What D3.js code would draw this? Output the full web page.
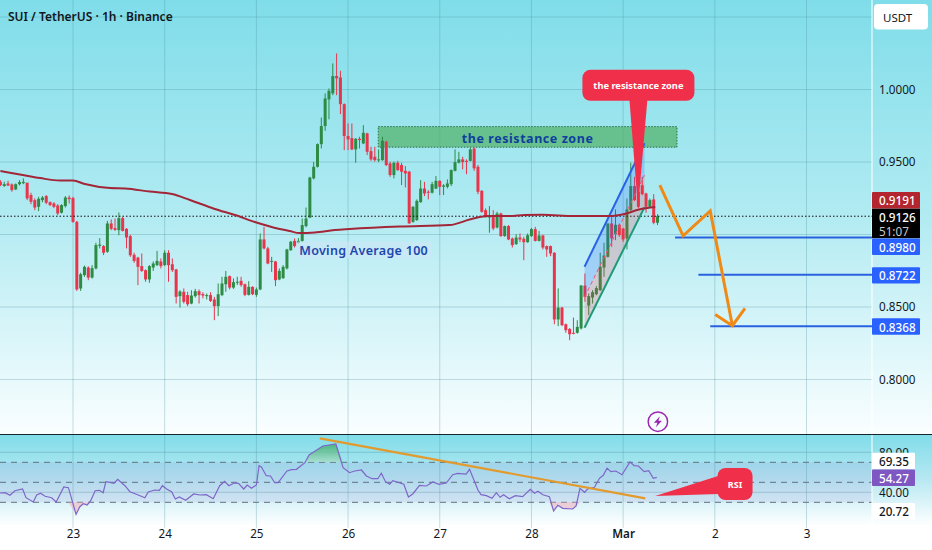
<!DOCTYPE html>
<html>
<head>
<meta charset="utf-8">
<style>
  html, body { margin: 0; padding: 0; background: #fff; overflow: hidden; }
  svg { display: block; }
  text { font-family: "Noto Sans", sans-serif; }
</style>
<script src="https://cdnjs.cloudflare.com/ajax/libs/d3/7.8.5/d3.min.js"></script>
</head>
<body>
<script>
// hours are counted from 23 Feb 00:00, first candle sits 19 hours earlier
const firstHour = -19;

const opens = [.9364,.9334,.9352,.9345,.9311,.9347,.9354,.9357,.9272,.9237,.9191,.9237,.9265,.9223,.9214,.9200,.9150,.9196,.9255,
  .9251,.9087,.8628,.8720,.8772,.8703,.8766,.8922,.8920,.8881,.9076,.9044,.9030,.9113,.9039,.8989,.8860,.8841,.8782,.8754,.8690,.8772,.8789,.8814,.8789,.8874,.8795,.8759,.8575,.8605,.8582,.8524,.8575,.8609,.8589,.8575,.8582,.8552,.8506,.8582,.8657,.8713,.8634,.8667,.8680,.8657,.8584,.8639,.8584,.8621,.8966,.8904,.8812,.8814,.8690,.8699,.8766,.8892,.8956,.8943,.8956,.9058,
  .9117,.9387,.9467,.9623,.9748,.9932,.9973,1.0093,1.0083,.9899,.9679,.9665,.9587,.9660,.9628,.9697,.9575,.9536,.9513,.9513,.9640,.9490,.9410,.9495,.9479,.9439,.9433,.9087,.9099,.9223,.9317,.9295,.9288,.9317,.9370,.9329,.9329,.9347,.9439,.9495,.9518,.9508,.9508,.9593,.9467,.9301,.9168,.9117,.9122,.9048,.9145,.8989,.9058,.8972,.8933,.8979,.8970,.8947,.8989,.9037,.8956,.8993,.8920,.8920,.8874,.8414,.8496,.8381,.8349,.8322,.8322,
  .8352,.8648,.8510,.8565,.8588,.8616,.8772,.8846,.9076,.9002,.9067,.9041,.8973,.9168,.9334,.9295,.9340,.9283,.9191,.9242,.9081];
const highs = [.9375,.9364,.9370,.9352,.9352,.9375,.9387,.9357,.9288,.9249,.9260,.9265,.9272,.9228,.9223,.9209,.9209,.9265,.9269,
  .9260,.9094,.8736,.8786,.8781,.8789,.8943,.8975,.8927,.9094,.9104,.9110,.9152,.9122,.9044,.8998,.8874,.8846,.8869,.8759,.8789,.8814,.8887,.8835,.8892,.8892,.8835,.8763,.8616,.8628,.8605,.8616,.8625,.8621,.8602,.8593,.8602,.8570,.8662,.8708,.8749,.8717,.8697,.8708,.8708,.8662,.8678,.8643,.8634,.9007,.9053,.8915,.8846,.8818,.8766,.8789,.8901,.8956,.8973,.8975,.9110,.9186,
  .9398,.9501,.9628,.9807,.9973,1.0007,1.0180,1.0249,1.0129,.9904,.9766,.9766,.9665,.9674,.9754,.9702,.9605,.9605,.9587,.9674,.9646,.9502,.9502,.9508,.9495,.9472,.9439,.9196,.9242,.9375,.9363,.9306,.9363,.9403,.9375,.9347,.9380,.9449,.9587,.9570,.9536,.9518,.9600,.9600,.9479,.9306,.9180,.9196,.9168,.9157,.9150,.9062,.9065,.8979,.9002,.9007,.8984,.9007,.9046,.9053,.9025,.8998,.8924,.8924,.8878,.8628,.8501,.8386,.8354,.8427,.8409,
  .8651,.8731,.8593,.8616,.8644,.8874,.8943,.9076,.9122,.9173,.9076,.9046,.9248,.9495,.9398,.9334,.9398,.9288,.9248,.9278,.9140];
const lows = [.9334,.9329,.9334,.9295,.9306,.9338,.9347,.9237,.9209,.9168,.9161,.9223,.9209,.9196,.9182,.9134,.9145,.9186,.9214,
  .9081,.8611,.8611,.8708,.8685,.8696,.8759,.8904,.8858,.8874,.9030,.9025,.8995,.9021,.8904,.8846,.8805,.8651,.8742,.8674,.8667,.8749,.8782,.8766,.8782,.8674,.8742,.8524,.8496,.8524,.8506,.8519,.8565,.8524,.8559,.8552,.8535,.8409,.8437,.8575,.8605,.8621,.8625,.8651,.8639,.8575,.8579,.8582,.8570,.8616,.8897,.8795,.8742,.8644,.8685,.8694,.8759,.8887,.8910,.8938,.8949,.9049,
  .9113,.9380,.9462,.9593,.9715,.9794,.9961,.9961,.9830,.9582,.9582,.9582,.9495,.9593,.9623,.9548,.9508,.9502,.9499,.9508,.9472,.9398,.9387,.9439,.9341,.9324,.9076,.9081,.9094,.9219,.9265,.9242,.9283,.9313,.9272,.9272,.9318,.9334,.9435,.9490,.9449,.9416,.9504,.9439,.9278,.9150,.9117,.9012,.9030,.9042,.8984,.8984,.8961,.8910,.8929,.8947,.8823,.8943,.8984,.8952,.8952,.8897,.8846,.8851,.8381,.8368,.8368,.8322,.8271,.8312,.8317,
  .8345,.8536,.8444,.8524,.8581,.8611,.8708,.8841,.8915,.8961,.8984,.8950,.8897,.9163,.9230,.9180,.9271,.9150,.9186,.9071,.9065];
const closes = [.9341,.9347,.9338,.9306,.9347,.9361,.9363,.9249,.9226,.9186,.9246,.9255,.9219,.9203,.9191,.9145,.9203,.9255,.9244,
  .9087,.8621,.8726,.8777,.8703,.8768,.8927,.8931,.8874,.9076,.9039,.9032,.9113,.9025,.8979,.8857,.8818,.8777,.8749,.8690,.8782,.8800,.8818,.8782,.8874,.8789,.8754,.8570,.8607,.8536,.8519,.8579,.8609,.8582,.8579,.8582,.8542,.8506,.8588,.8662,.8708,.8634,.8671,.8674,.8651,.8584,.8639,.8588,.8621,.8966,.8904,.8800,.8818,.8685,.8749,.8777,.8897,.8950,.8920,.8956,.9065,.9110,
  .9393,.9467,.9623,.9748,.9938,.9991,1.0093,1.0077,.9899,.9679,.9656,.9587,.9660,.9651,.9702,.9571,.9518,.9513,.9518,.9646,.9479,.9410,.9495,.9444,.9433,.9421,.9076,.9191,.9232,.9317,.9283,.9288,.9347,.9370,.9329,.9338,.9352,.9444,.9499,.9518,.9499,.9504,.9587,.9456,.9295,.9157,.9122,.9127,.9042,.9145,.8989,.9058,.8966,.8927,.8979,.8966,.8947,.8995,.9037,.8956,.8993,.8910,.8897,.8869,.8414,.8496,.8375,.8340,.8312,.8317,.8363,
  .8648,.8570,.8575,.8602,.8630,.8777,.8855,.9076,.8973,.9067,.8996,.8966,.9173,.9334,.9237,.9191,.9278,.9191,.9237,.9081,.9126];

const maHours = [-19,-13.9,-8.6,-3.4,0,3.1,9.7,13.6,20.1,25.9,30.6,37.1,42.4,47.6,54.1,56.7,59.3,63.3,68.5,72.4,85.5,98.6,103.8,106.4,109,114.2,118.2,122.9,131.2,140.4,144.3,148.2,152.4];
const maValues = [.9438,.9414,.9389,.9372,.9372,.9348,.9320,.9317,.9296,.9279,.9238,.9176,.9134,.9086,.9038,.9024,.9010,.9014,.9031,.9038,.9055,.9065,.9103,.9120,.9127,.9127,.9134,.9136,.9127,.9127,.9141,.9172,.9189];

const rsiHours = [-19.1,-17.8,-16.5,-15.2,-13.2,-12.3,-10.4,-9.5,-8.5,-7.3,-5.6,-4.4,-2.4,-1.2,.8,1.8,2.7,3.7,4.6,5.8,6.9,7.9,8.6,9.7,10.7,11.7,13.6,14.9,16.6,18.8,19.7,21.4,22.6,23.4,24.5,25.8,26.8,27.8,29.5,31.6,33.2,34.9,36.7,38.4,39.7,40.8,42.2,43.3,44.7,45.6,46.7,48,48.7,49.3,50.6,51.7,52.8,53.7,56,57.2,58.5,60.7,61.8,65.4,68.8,70.7,72.4,73.7,75.5,76.8,78.3,79.8,80.7,81.8,82.9,83.7,86.6,87.8,89,90.7,92.5,94.2,95.8,97.7,99.4,100.7,102.9,103.8,106,106.8,108.2,109.7,110.8,111.8,112.7,114.2,115.8,117.7,119.7,120.8,121.7,123,124.7,125.8,126.9,128.2,130.8,131.7,132.7,133.9,134.7,136.5,137.8,138.8,139.8,140.8,142.1,143.7,145.8,146.9,148,149.5,150.7,151.9,152.8];
const rsiValues = [39.3,39.6,37,41.6,43.3,34.6,30.3,37.3,39,36,34.6,30.3,45.3,44.6,18,25.6,28.6,27.3,31.3,41.6,42,39.6,50.6,50,49,53,46.6,40.6,38,34.6,40.3,42.3,42,46.6,43.3,40.6,33.3,35.3,32,38.3,37.3,37.6,33.6,46.6,51,46.6,49.3,49,43.3,47.3,44,47.3,66.6,65.3,56.6,56.3,49.6,49.6,61.3,62.6,63,69.6,77.3,86.3,88.3,64.6,59.6,61.3,62.3,56.3,53.6,53.6,59,50.6,48,51.6,48,35.3,38.6,47,46.3,50.3,48,49.3,57.6,59,58.3,63,42.3,37.6,36.6,34,39.6,35,37.6,33.6,36.6,35.6,43,39,41,37.6,35.6,21.3,27,24,23.3,26.3,44,40,43.3,45,54,57,64,60.6,61.3,57.6,70.3,66.6,66.3,60.6,61.6,54,55];

const dayHours = [0,24,48,72,96,120,144,168,192];
const dayLabels = ["23","24","25","26","27","28","Mar","2","3"];
const priceGrid = [1.05,1,0.95,0.9,0.85,0.8];
const priceTicks = [1,0.95,0.85,0.8];
const rsiGrid = [80,40];
const rsiBands = [70,50,30];
const rsiTicks = [80,40];

const lastPrice = 0.9126;
const maLast = 0.9191;
const targets = [0.898,0.8722,0.8368];
const targetStartHours = [157.6,163.7,166.8];

// drawings on the chart, all in hours and price / rsi units
const zoneHours = [79.9,158.1];
const zonePrices = [0.9744,0.9602];
const channelHours = [133.9,149.6];
const channelUpper = [0.8778,0.9629];
const channelLower = [0.8357,0.9189];
const zigzagHours = [153.6,159.7,166.8,172.6];
const zigzagPrices = [0.9341,0.8991,0.9162,0.8371];
const arrowHours = [168.1,172.6,175.9];
const arrowPrices = [0.8449,0.8371,0.8491];
const trendHours = [64.6,149.8];
const trendRsi = [94,34];

const width = 932, height = 550;
const axisX = 872, panelTop = 434.5, panelBottom = 528;

const x = d3.scaleLinear().domain([0,192]).range([73,806.5]);
const y = d3.scaleLinear().domain([0.8,1]).range([379.5,89.5]);
const r = d3.scaleLinear().domain([0,100]).range([532.3,432.3]);

const svg = d3.select("body").append("svg").attr("width",width).attr("height",height);
const defs = svg.append("defs");

function addGradient(id, y1, y2, stops) {
  const g = defs.append("linearGradient").attr("id",id).attr("gradientUnits","userSpaceOnUse")
    .attr("x1",0).attr("x2",0).attr("y1",y1).attr("y2",y2);
  stops.forEach(s => g.append("stop").attr("offset",s[0]).attr("stop-color",s[1]));
}
addGradient("bgMain",0,434,[[0,"#7fdde9"],[0.5,"#b2ebf2"],[1,"#fafeff"]]);
addGradient("bgRsi",434,526,[[0,"#7fdde9"],[0.5,"#b8e8f2"],[1,"#ffffff"]]);
addGradient("overFill",445,462,[[0,"#3fae6c"],[1,"#a6dcc8"]]);
defs.append("clipPath").attr("id","clipOver").append("rect").attr("x",0).attr("y",0).attr("width",width).attr("height",r(70));

svg.append("rect").attr("width",width).attr("height",434).attr("fill","url(#bgMain)");
svg.append("rect").attr("y",434).attr("width",width).attr("height",94).attr("fill","url(#bgRsi)");

// rsi band
svg.append("rect").attr("x",0).attr("width",axisX).attr("y",r(70)).attr("height",r(30)-r(70))
  .attr("fill","#7e57c2").attr("fill-opacity",0.1);

// grid
svg.append("g").selectAll("line").data(priceGrid).join("line")
  .attr("x1",0).attr("x2",axisX).attr("y1",d => y(d)).attr("y2",d => y(d))
  .attr("stroke","#4a8f9c").attr("stroke-opacity",0.3);
svg.append("g").selectAll("line").data(dayHours).join("line")
  .attr("x1",d => x(d)).attr("x2",d => x(d)).attr("y1",0).attr("y2",panelBottom)
  .attr("stroke","#4a8f9c").attr("stroke-opacity",0.3);
svg.append("g").selectAll("line").data(rsiGrid).join("line")
  .attr("x1",0).attr("x2",axisX).attr("y1",d => r(d)).attr("y2",d => r(d))
  .attr("stroke","#4a7f8c").attr("stroke-opacity",0.3);
svg.append("g").selectAll("line").data(rsiBands).join("line")
  .attr("x1",0).attr("x2",axisX).attr("y1",d => r(d)).attr("y2",d => r(d))
  .attr("stroke","#5f7480").attr("stroke-dasharray","6,5");

// axis column edge
svg.append("line").attr("x1",axisX).attr("x2",axisX).attr("y1",0).attr("y2",panelBottom)
  .attr("stroke","#fff").attr("stroke-opacity",0.7).attr("stroke-width",1.5);

// resistance zone
svg.append("rect").attr("x",x(zoneHours[0])).attr("width",x(zoneHours[1])-x(zoneHours[0]))
  .attr("y",y(zonePrices[0])).attr("height",y(zonePrices[1])-y(zonePrices[0]))
  .attr("fill","#4caf62").attr("fill-opacity",0.68)
  .attr("stroke","#2c6e49").attr("stroke-dasharray","1.5,1.5");

// candles
const candles = opens.map((o,i) => ({hour:firstHour+i, o, h:highs[i], l:lows[i], c:closes[i]}));
const candleColor = d => d.c >= d.o ? "#2e8b45" : "#e8354c";
const gc = svg.append("g");
gc.selectAll("line").data(candles).join("line")
  .attr("x1",d => x(d.hour)).attr("x2",d => x(d.hour))
  .attr("y1",d => y(d.h)).attr("y2",d => y(d.l))
  .attr("stroke",candleColor);
gc.selectAll("rect").data(candles).join("rect")
  .attr("x",d => x(d.hour)-1.5).attr("width",3)
  .attr("y",d => y(Math.max(d.o,d.c)))
  .attr("height",d => Math.max(1,Math.abs(y(d.o)-y(d.c))))
  .attr("fill",candleColor);

// last price line
svg.append("line").attr("x1",0).attr("x2",axisX).attr("y1",y(lastPrice)).attr("y2",y(lastPrice))
  .attr("stroke","#111").attr("stroke-dasharray","1.5,2");

// rising channel
const channel = channelHours.map((h,i) => ({h, up:channelUpper[i], lo:channelLower[i], mid:(channelUpper[i]+channelLower[i])/2}));
const bandArea = (a,b) => d3.area().x(d => x(d.h)).y0(d => y(d[a])).y1(d => y(d[b]));
svg.append("path").datum(channel).attr("d",bandArea("mid","up")).attr("fill","#2962ff").attr("fill-opacity",0.22);
svg.append("path").datum(channel).attr("d",bandArea("lo","mid")).attr("fill","#f23645").attr("fill-opacity",0.2);
const chanLine = k => d3.line().x(d => x(d.h)).y(d => y(d[k]));
svg.append("path").datum(channel).attr("d",chanLine("up")).attr("fill","none").attr("stroke","#2962e8").attr("stroke-width",2);
svg.append("path").datum(channel).attr("d",chanLine("lo")).attr("fill","none").attr("stroke","#1f9a78").attr("stroke-width",2);
svg.append("path").datum(channel).attr("d",chanLine("mid")).attr("fill","none").attr("stroke","#f2547a").attr("stroke-dasharray","4,3").attr("stroke-width",1);

// target lines
svg.append("g").selectAll("line").data(targets).join("line")
  .attr("x1",(d,i) => x(targetStartHours[i])).attr("x2",axisX)
  .attr("y1",d => y(d)).attr("y2",d => y(d))
  .attr("stroke","#2962e0").attr("stroke-width",2);

// orange path
const orange = d3.line().x(d => x(d[0])).y(d => y(d[1]));
svg.append("path").datum(zigzagHours.map((h,i) => [h,zigzagPrices[i]])).attr("d",orange)
  .attr("fill","none").attr("stroke","#ef8a17").attr("stroke-width",3);
svg.append("path").datum(arrowHours.map((h,i) => [h,arrowPrices[i]])).attr("d",orange)
  .attr("fill","none").attr("stroke","#ef8a17").attr("stroke-width",3);

// annotations text
svg.append("text").attr("x",x(119)).attr("y",y(0.9659)).attr("text-anchor","middle").attr("dominant-baseline","central")
  .attr("font-weight",700).attr("font-size",12.5).attr("letter-spacing",0.55).attr("fill","#0f3f9c").text("the resistance zone");

const maLabel = svg.append("g").attr("transform",`translate(${x(58.7)},${y(0.8893)})`);
maLabel.append("rect").attr("x",0).attr("y",-8.5).attr("width",135).attr("height",17).attr("fill","#cfe6f6").attr("fill-opacity",0.6);
maLabel.append("text").attr("x",2).attr("y",0).attr("dominant-baseline","central")
  .attr("font-weight",600).attr("font-size",12.5).attr("letter-spacing",0.3).attr("fill","#1d47ad").text("Moving Average 100");

// red callouts: box centre and tip both come from the scales
function callout(cx, cy, w, h, tx, ty, baseA, baseB, label, fs) {
  const g = svg.append("g");
  g.append("path").attr("d",`M${baseA[0]},${baseA[1]}L${tx},${ty}L${baseB[0]},${baseB[1]}Z`).attr("fill","#f0304a");
  g.append("rect").attr("x",cx-w/2).attr("y",cy-h/2).attr("width",w).attr("height",h).attr("rx",8).attr("fill","#f0304a");
  g.append("text").attr("x",cx).attr("y",cy).attr("text-anchor","middle").attr("dominant-baseline","central")
    .attr("font-size",fs).attr("font-weight",700).attr("fill","#fff").text(label);
}
{
  const cx = x(148), cy = y(1.0029), tx = x(147.9), ty = y(0.9183);
  callout(cx,cy,112,31,tx,ty,[cx-9,cy+14],[cx+9,cy+14],"the resistance zone",9.3);
  const rx = x(173.3), ry = r(48.3);
  callout(rx,ry,35,32,x(152.4),r(36.3),[rx-17,ry-8],[rx-17,ry+10],"RSI",9);
}

// moving average, above the channel
const maLine = d3.line().x(d => x(d[0])).y(d => y(d[1])).curve(d3.curveMonotoneX);
svg.append("path").datum(maHours.map((h,i) => [h,maValues[i]])).attr("d",maLine)
  .attr("fill","none").attr("stroke","#a32638").attr("stroke-width",2);

// rsi line
const rsiPts = rsiHours.map((h,i) => [h,rsiValues[i]]);
const rsiLine = d3.line().x(d => x(d[0])).y(d => r(d[1]));
const overArea = d3.area().x(d => x(d[0])).y0(r(70)).y1(d => r(Math.max(70,d[1])));
svg.append("path").datum(rsiPts).attr("d",overArea).attr("fill","url(#overFill)").attr("fill-opacity",0.8).attr("clip-path","url(#clipOver)");
const underArea = d3.area().x(d => x(d[0])).y0(r(30)).y1(d => r(Math.min(30,d[1])));
svg.append("path").datum(rsiPts).attr("d",underArea).attr("fill","#f4a6b6").attr("fill-opacity",0.5);
svg.append("path").datum(rsiPts).attr("d",rsiLine).attr("fill","none").attr("stroke","#7e66c8").attr("stroke-width",1.2);

// rsi trend line
svg.append("path").datum(trendHours.map((h,i) => [h,trendRsi[i]])).attr("d",rsiLine)
  .attr("fill","none").attr("stroke","#e39a2d").attr("stroke-width",2.2);

// lightning badge
const badge = svg.append("g").attr("transform",`translate(${x(153.1)},${y(0.7709)})`);
badge.append("circle").attr("r",9.7).attr("fill","#f6fdfe").attr("stroke","#9c27b0").attr("stroke-width",1.5);
badge.append("path").attr("d","M2,-5.5L-4,1L-0.5,1L-2,5.5L4,-1L0.5,-1Z").attr("fill","#9c27b0");

// panel separator
svg.append("line").attr("x1",0).attr("x2",width).attr("y1",panelTop).attr("y2",panelTop).attr("stroke","#14252c").attr("stroke-width",1.2);

// axes
const axisText = g => {
  g.select(".domain").remove();
  g.selectAll("text").attr("font-family",'"Noto Sans", sans-serif').attr("font-size",11.7).attr("fill","#131722");
};
svg.append("g").attr("transform",`translate(${axisX},0)`)
  .call(d3.axisRight(y).tickValues(priceTicks).tickSize(0).tickPadding(7).tickFormat(d3.format(".4f")))
  .call(axisText);
svg.append("g").attr("transform",`translate(${axisX},0)`)
  .call(d3.axisRight(r).tickValues(rsiTicks).tickSize(0).tickPadding(7).tickFormat(d3.format(".2f")))
  .call(axisText);
svg.append("g").attr("transform",`translate(0,${panelBottom - 1})`)
  .call(d3.axisBottom(x).tickValues(dayHours).tickSize(0).tickPadding(3).tickFormat((d,i) => dayLabels[i]))
  .call(axisText)
  .call(g => g.selectAll("text").filter((d,i) => dayLabels[i] === "Mar").attr("font-weight",600));

// price tags
function tag(v, fill, color, scale, w, fmt, dy) {
  const cy = scale(v) + dy;
  svg.append("rect").attr("x",axisX).attr("y",cy-8.2).attr("width",w).attr("height",16.4).attr("fill",fill).attr("rx",1);
  svg.append("text").attr("x",axisX+7).attr("y",cy).attr("dominant-baseline","central")
    .attr("font-size",11.7).attr("font-weight",500).attr("fill",color).text(d3.format(fmt)(v));
}
// the stacked tags are nudged by the axis so they do not cover each other
const stack = svg.append("g");
stack.append("rect").attr("x",axisX).attr("y",y(lastPrice)-7.7).attr("width",48).attr("height",29.7).attr("fill","#000");
stack.append("text").attr("x",axisX+7).attr("y",y(lastPrice)+0.5).attr("dominant-baseline","central")
  .attr("font-size",11.7).attr("font-weight",500).attr("fill","#fff").text(d3.format(".4f")(lastPrice));
stack.append("text").attr("x",axisX+7).attr("y",y(lastPrice)+14.5).attr("dominant-baseline","central")
  .attr("font-size",11.7).attr("fill","#c9c9c9").text("51:07");
tag(maLast,"#b3262f","#fff",y,48,".4f",y(lastPrice)-16-y(maLast));
tag(0.898,"#2962ff","#fff",y,48,".4f",9.4);
tag(0.8722,"#2962ff","#fff",y,48,".4f",0.6);
tag(0.8368,"#2962ff","#fff",y,48,".4f",0.4);

tag(69.35,"#ffffff","#131722",r,43,".2f",-2);
tag(54.27,"#7e57c2","#fff",r,43,".2f",-0.3);
tag(20.72,"#ffffff","#131722",r,43,".2f",-0.3);

// title and currency button
svg.append("text").attr("x",8).attr("y",20.5).attr("font-size",12).attr("font-weight",600).attr("fill","#131722")
  .text("SUI / TetherUS · 1h · Binance");
svg.append("rect").attr("x",874).attr("y",4).attr("width",54).attr("height",25.5).attr("rx",4).attr("fill","#fff");
svg.append("text").attr("x",883).attr("y",17).attr("dominant-baseline","central")
  .attr("font-size",11.5).attr("fill","#131722").text("USDT");
</script>
</body>
</html>
